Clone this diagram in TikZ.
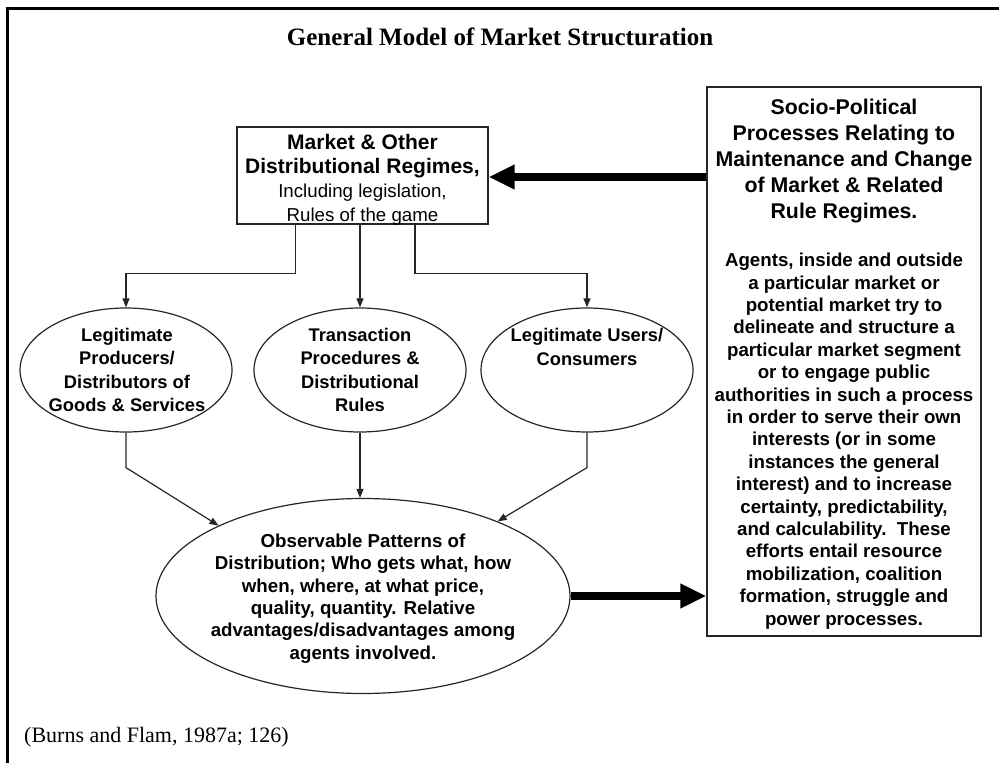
\documentclass[tikz,border=0pt]{standalone}
\usepackage{fontspec}
\setmainfont{Liberation Serif}
\setsansfont{Liberation Sans}
\usetikzlibrary{shapes.geometric,arrows.meta,calc}
\newcommand\hdfont{\sffamily\bfseries\fontsize{21}{24}\selectfont}
\begin{document}
\begin{tikzpicture}[x=1pt,y=-1pt,
  ln/.style={line width=1.2pt, draw=black!85},
  arr/.style={ln, -{Triangle[length=9pt,width=7pt]}},
  fat/.style={line width=8pt, draw=black, -{Triangle[length=26pt,width=23pt]}},
  ell/.style={ellipse, ln, draw, inner sep=0pt},
  box/.style={rectangle, ln, draw, inner sep=0pt},
  etxt/.style={align=center, inner sep=0pt, font=\sffamily\bfseries\fontsize{18.3}{23.3}\selectfont},
  btxt/.style={align=center, inner sep=0pt, font=\sffamily\bfseries\fontsize{18.7}{22.4}\selectfont}
]
\useasboundingbox (0,0) rectangle (999,763);
\draw[line width=3pt] (7,775) -- (7,8) -- (1010,8);

\node[font=\rmfamily\bfseries\fontsize{25}{30}\selectfont] (title) at (500,37) {General Model of Market Structuration};

\node[box, minimum width=251pt, minimum height=97pt] (tb) at (362.5,175.5) {};
\node[align=center, inner sep=0pt, font=\sffamily\fontsize{18.7}{24}\selectfont] (tbt) at (362.5,180)
  {{\hdfont Market \& Other}\\{\hdfont Distributional Regimes,}\\Including legislation,\\Rules of the game};

\node[box, minimum width=274pt, minimum height=549pt] (sp) at (844,361.5) {};
\node[align=center, inner sep=0pt, font=\sffamily\bfseries\fontsize{21.3}{26}\selectfont] (sph) at (844,161)
  {Socio-Political\\Processes Relating to\\Maintenance and Change\\of Market \& Related\\Rule Regimes.};
\node[btxt] (spb) at (844,441)
  {Agents, inside and outside\\a particular market or\\potential market try to\\delineate and structure a\\particular market segment\\or to engage public\\authorities in such a process\\in order to serve their own\\interests (or in some\\instances the general\\interest) and to increase\\certainty, predictability,\\and calculability.\ \ These\\efforts entail resource\\mobilization, coalition\\formation, struggle and\\power processes.};

\node[ell, minimum width=212pt, minimum height=124pt] (e1) at (126,370) {};
\node[ell, minimum width=212pt, minimum height=124pt] (e2) at (360,370) {};
\node[ell, minimum width=212pt, minimum height=124pt] (e3) at (587,370) {};
\node[etxt] (t1) at (127,370) {Legitimate\\Producers/\\Distributors of\\Goods \& Services};
\node[etxt] (t2) at (360,370) {Transaction\\Procedures \&\\Distributional\\Rules};
\node[etxt] (t3) at (587,347) {Legitimate Users/\\Consumers};

\node[ell, minimum width=414pt, minimum height=195pt] (big) at (363,596) {};
\node[btxt] (bt) at (363,598.5) {Observable Patterns of\\Distribution; Who gets what, how\\when, where, at what price,\\quality, quantity. Relative\\advantages/disadvantages among\\agents involved.};

\node[anchor=west, inner sep=0pt, font=\rmfamily\fontsize{22}{26}\selectfont] (cite) at (24,737) {(Burns and Flam, 1987a; 126)};

\coordinate (ta) at (sp.west |- 0,177);
\coordinate (tz) at (tb.east |- 0,177);
\draw[fat] (ta) -- (tz);
\draw[fat] (big.east) -- (big.east -| sp.west);

\draw[arr] ([xshift=-67pt]tb.south) -- ++(0,49) -| (e1.north);
\draw[arr] (tb.south -| e2.north) -- (e2.north);
\draw[arr] ([xshift=52.5pt]tb.south) -- ++(0,49) -| (e3.north);

\draw[arr] (e1.south) -- ++(0,35) -- (big.154);
\draw[arr] (e2.south) -- (e2.south |- big.north);
\draw[arr] (e3.south) -- ++(0,35) -- (big.29);
\end{tikzpicture}
\end{document}
